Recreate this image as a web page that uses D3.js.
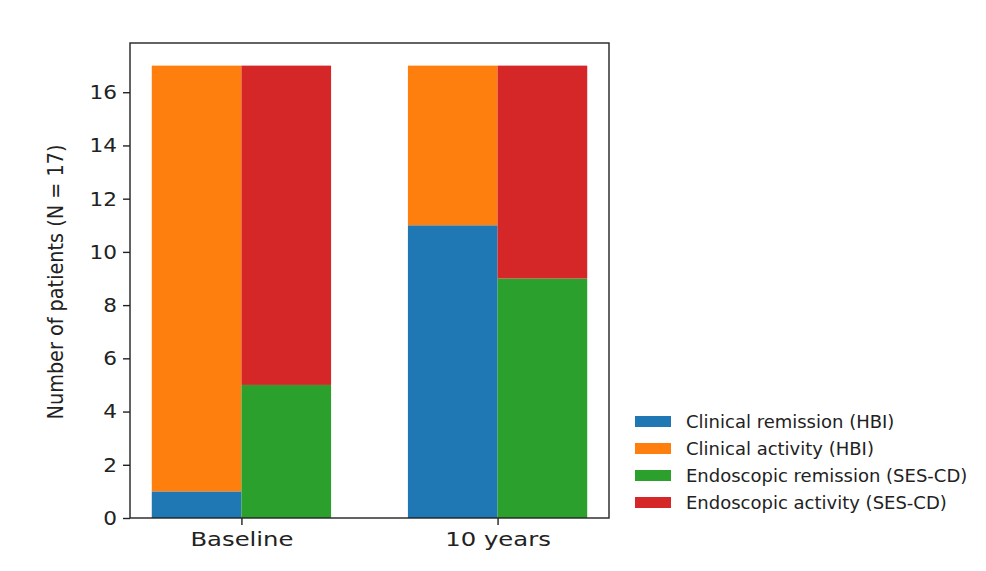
<!DOCTYPE html>
<html>
<head>
<meta charset="utf-8">
<script src="https://cdn.jsdelivr.net/npm/d3@7"></script>
<style>
  body { margin: 0; background: #fff; }
  svg { display: block; }
  .axis path, .axis line { stroke: #222; stroke-width: 1.4; }
</style>
</head>
<body>
<div id="chart"></div>
<script>
// data
var categories = ['Baseline', '10 years']
var clinicalRemission = [1, 11]
var clinicalActivity = [16, 6]
var endoRemission = [5, 9]
var endoActivity = [12, 8]
var yTicks = [0, 2, 4, 6, 8, 10, 12, 14, 16]
var legendLabels = ['Clinical remission (HBI)', 'Clinical activity (HBI)', 'Endoscopic remission (SES-CD)', 'Endoscopic activity (SES-CD)']
var colors = ['#1f77b4', '#ff7f0e', '#2ca02c', '#d62728']

var width = 986, height = 571
var margin = { top: 43, right: 377, bottom: 53, left: 130 }
var barW = 0.35

var svg = d3.select('#chart').append('svg')
  .attr('width', width)
  .attr('height', height)

var xScale = d3.scaleLinear()
  .domain([-0.435, 1.435])
  .range([margin.left, width - margin.right])

var yScale = d3.scaleLinear()
  .domain([0, 17.85])
  .range([height - margin.bottom, margin.top])

// stacked bars: clinical on the left, endoscopic on the right of each tick
var stacks = [
  { off: -barW, parts: [clinicalRemission, clinicalActivity], cols: [colors[0], colors[1]] },
  { off: 0, parts: [endoRemission, endoActivity], cols: [colors[2], colors[3]] }
]

var barsG = svg.append('g').attr('class', 'bars')
stacks.forEach(function(s) {
  categories.forEach(function(c, i) {
    var base = 0
    s.parts.forEach(function(arr, k) {
      barsG.append('rect')
        .attr('x', xScale(i + s.off))
        .attr('width', xScale(i + s.off + barW) - xScale(i + s.off))
        .attr('y', yScale(base + arr[i]))
        .attr('height', yScale(base) - yScale(base + arr[i]))
        .attr('fill', s.cols[k])
      base += arr[i]
    })
  })
})

// frame
svg.append('rect')
  .attr('x', margin.left)
  .attr('y', margin.top)
  .attr('width', width - margin.right - margin.left)
  .attr('height', height - margin.bottom - margin.top)
  .attr('fill', 'none')
  .attr('stroke', '#222')
  .attr('stroke-width', 1.4)

// Y axis
var yRender = svg.append('g')
  .attr('class', 'axis')
  .attr('transform', `translate(${margin.left},0)`)
  .call(d3.axisLeft(yScale).tickValues(yTicks).tickSize(7).tickPadding(6))
yRender.select('.domain').remove()
yRender.selectAll('text')
  .style('font-family', 'DejaVu Sans')
  .style('font-size', '20px')
  .style('fill', '#222')
  .attr('transform', function() {
    var x = +d3.select(this).attr('x')
    return `translate(${x},0) scale(1.08,1) translate(${-x},0)`
  })

// X axis
var xRender = svg.append('g')
  .attr('class', 'axis')
  .attr('transform', `translate(0,${height - margin.bottom})`)
  .call(d3.axisBottom(xScale).tickValues([0, 1]).tickFormat(function(d) { return categories[d] }).tickSize(7).tickPadding(8))
xRender.select('.domain').remove()
xRender.selectAll('text')
  .style('font-family', 'DejaVu Sans')
  .style('font-size', '19px')
  .style('fill', '#222')
  .attr('transform', 'scale(1.28,1)')

svg.append('text')
  .attr('text-anchor', 'middle')
  .attr('transform', `translate(63,282) rotate(-90) scale(0.875,1)`)
  .style('font-family', 'DejaVu Sans')
  .style('font-size', '22px')
  .style('fill', '#222')
  .text('Number of patients (N = 17)')

// legend
var legend = svg.append('g')
  .attr('transform', 'translate(635,416)')
legendLabels.forEach(function(l, i) {
  legend.append('rect')
    .attr('x', 0)
    .attr('y', i * 27)
    .attr('width', 36)
    .attr('height', 11)
    .attr('fill', colors[i])
  legend.append('text')
    .attr('x', 51)
    .attr('y', i * 27 + 12)
    .style('font-family', 'DejaVu Sans')
    .style('font-size', '18px')
    .style('fill', '#222')
    .text(l)
})
</script>
</body>
</html>
